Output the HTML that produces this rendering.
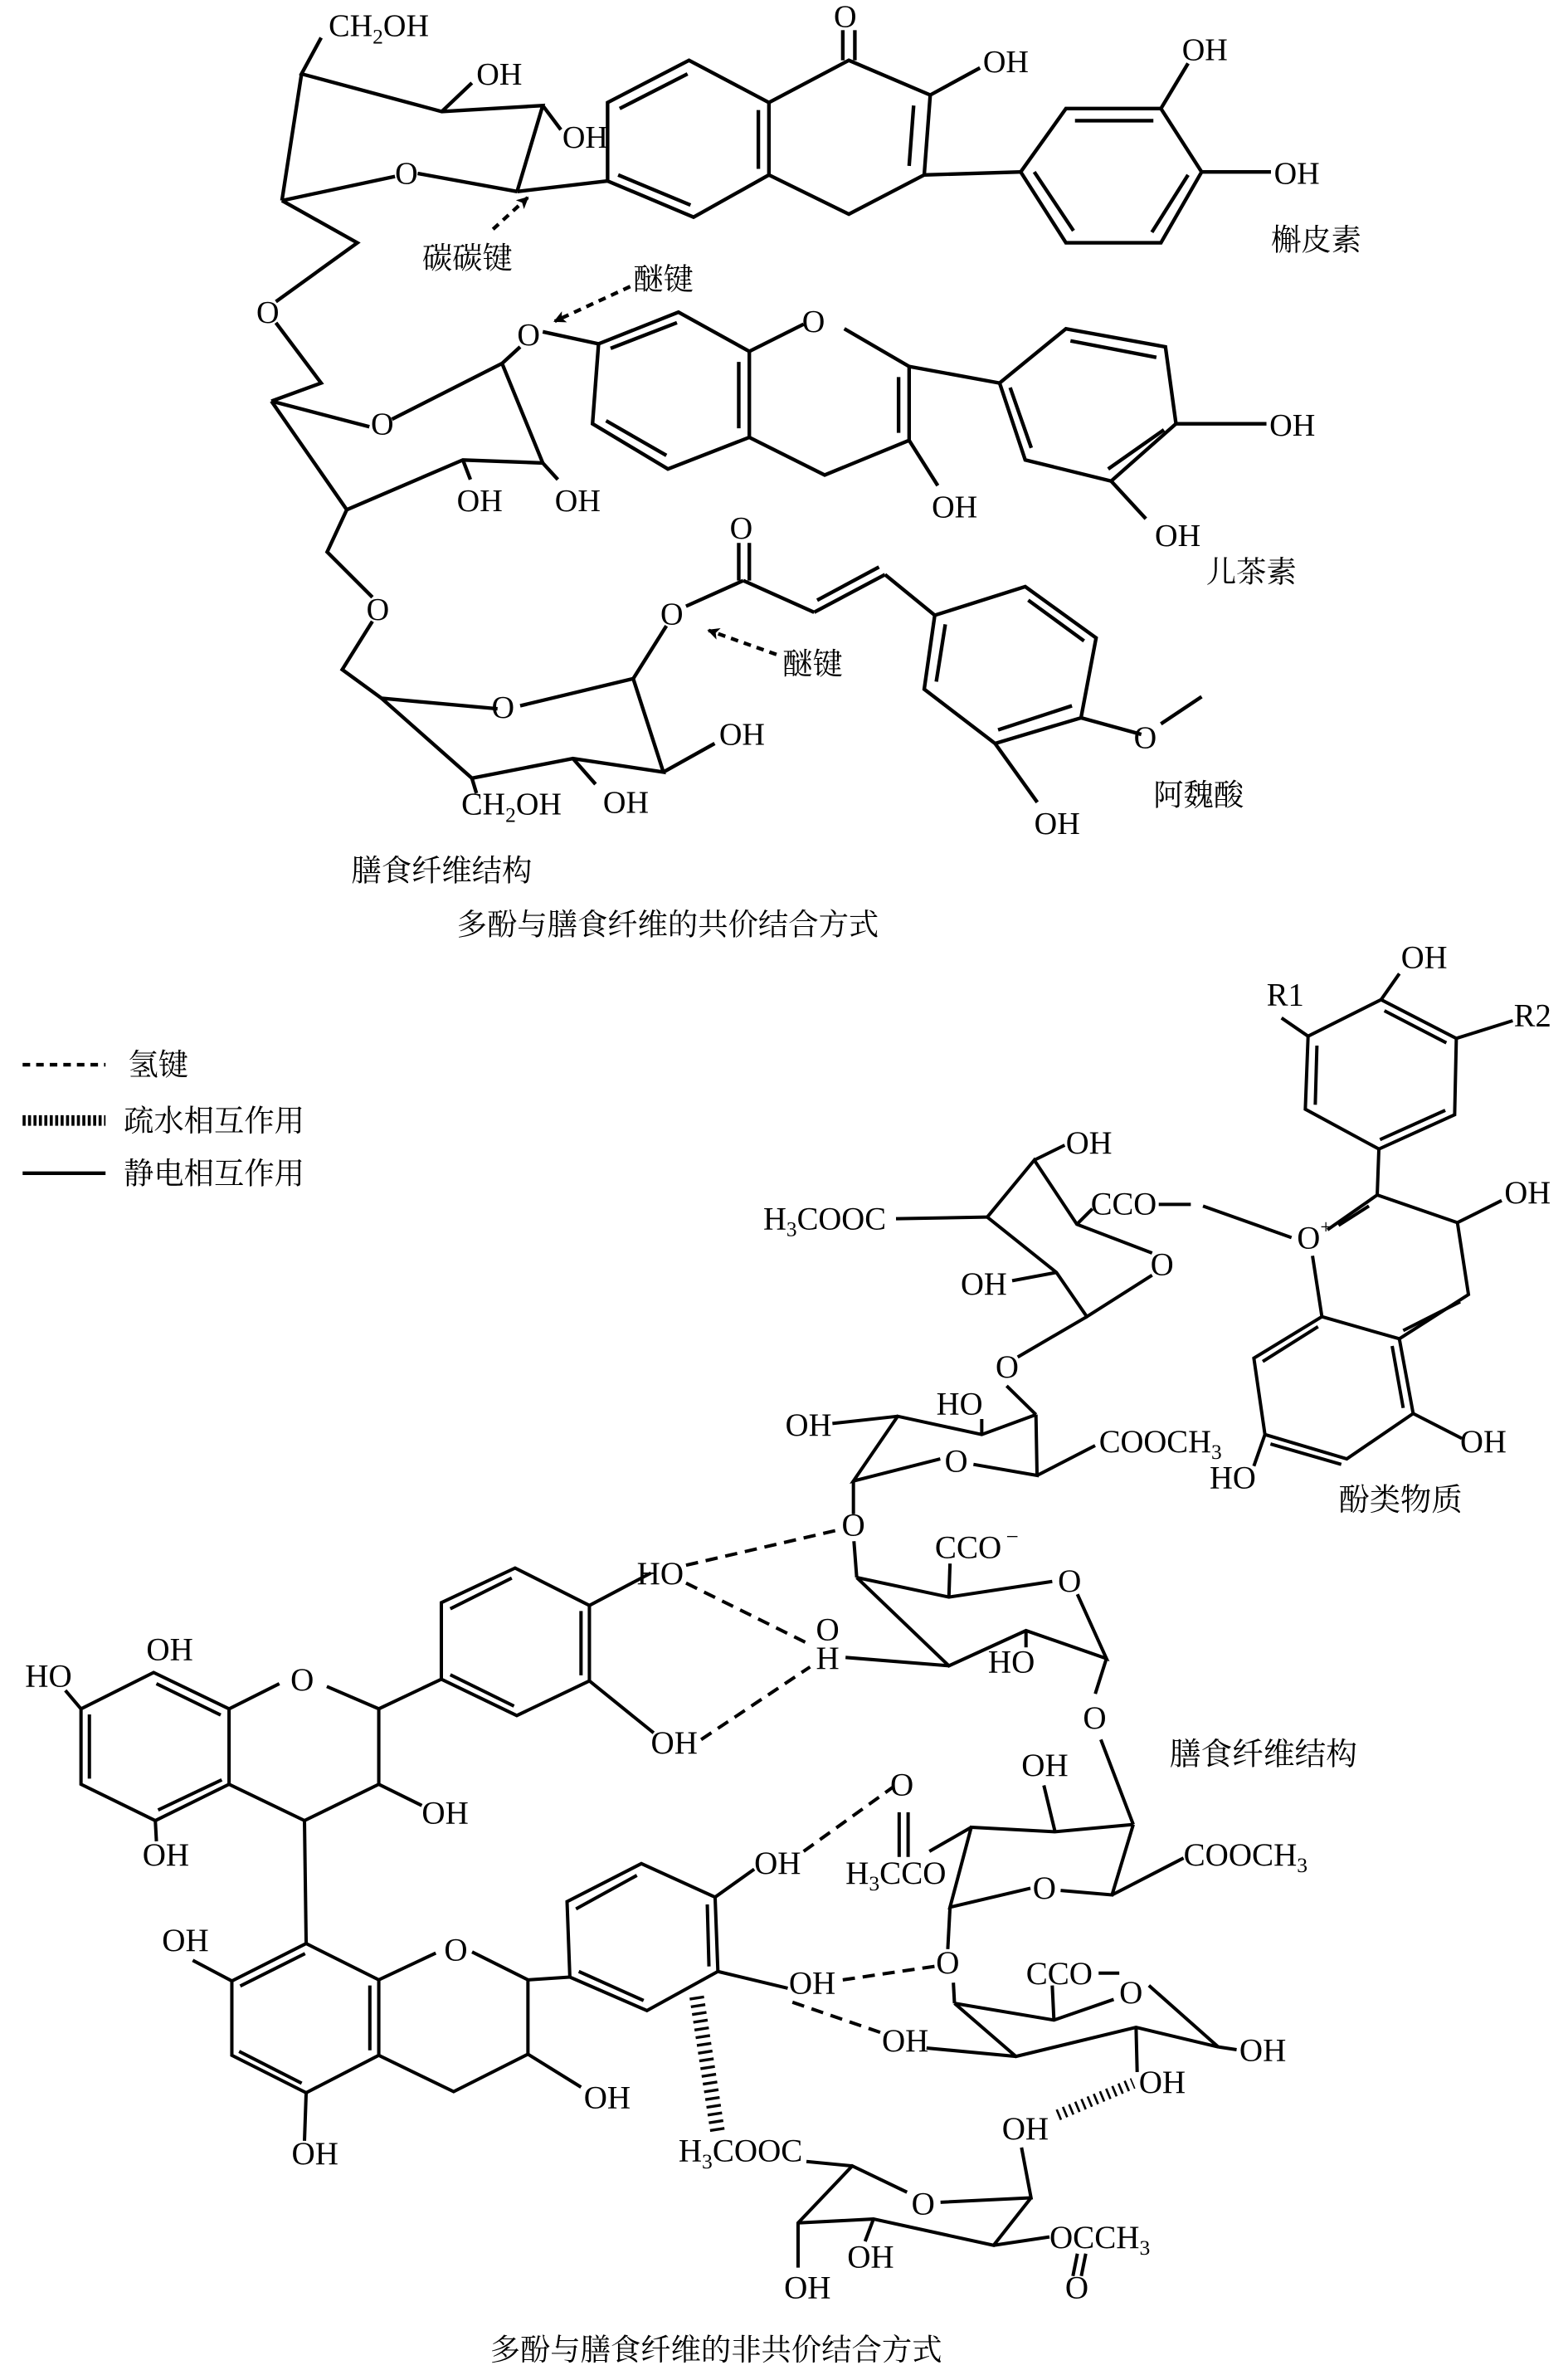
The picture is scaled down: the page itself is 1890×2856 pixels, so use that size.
<!DOCTYPE html>
<html><head><meta charset="utf-8"><style>
html,body{margin:0;padding:0;background:#fff}
svg{display:block}
text{font-family:"Liberation Serif","Noto Serif CJK SC",serif;fill:#000}
.z line,.z polyline{stroke:#000;stroke-width:6;fill:none}
.d line,.d polyline{stroke:#000;stroke-width:2.4;fill:none}
.z text{font-size:58px}
.d text{font-size:21px}
.d text.c{font-size:20px}
.z text.c{font-size:56px}
</style></head><body>
<svg width="1890" height="2856" viewBox="0 0 1890 2856" xmlns="http://www.w3.org/2000/svg">
<defs>
<marker id="ah" markerWidth="8" markerHeight="8" refX="7" refY="4" orient="auto" markerUnits="userSpaceOnUse"><path d="M0,0 L8,4 L0,8 L2,4 z" fill="#000"/></marker>
</defs>

<g class="d" transform="scale(1.8173)">
<polyline points="213,25 200,49 293,74 360,70 343,127"/>
<line x1="343" y1="127" x2="277" y2="115"/>
<line x1="262" y1="117" x2="187" y2="133"/>
<line x1="187" y1="133" x2="200" y2="49"/>
<line x1="293" y1="74" x2="313" y2="55"/>
<line x1="360" y1="70" x2="372" y2="86"/>
<text x="218" y="24">CH<tspan font-size="14" dy="5">2</tspan><tspan dy="-5">OH</tspan></text>
<text x="316" y="56">OH</text>
<text x="373" y="98">OH</text>
<text x="262" y="122">O</text>
<line x1="343" y1="127" x2="403" y2="120"/>
<polyline points="187,133 237,161 183,200"/>
<text x="170" y="214">O</text>
<polyline points="183,214 213,254 180,266"/>
<line x1="180" y1="266" x2="245" y2="283"/>
<line x1="260" y1="278" x2="333" y2="241"/>
<line x1="333" y1="241" x2="345" y2="230"/>
<text x="343" y="229">O</text>
<polyline points="333,241 360,307 307,305 230,338 180,266"/>
<line x1="307" y1="305" x2="312" y2="318"/>
<line x1="360" y1="307" x2="370" y2="318"/>
<text x="303" y="339">OH</text>
<text x="368" y="339">OH</text>
<text x="246" y="288">O</text>
<line x1="360" y1="220" x2="397" y2="228"/>
<polyline points="230,338 217,366 247,396"/>
<text x="243" y="411">O</text>
<polyline points="247,412 227,444 253,463 330,470"/>
<polyline points="345,468 420,450 440,512 380,503 313,516 253,463"/>
<text x="326" y="476">O</text>
<line x1="440" y1="512" x2="474" y2="493"/>
<line x1="380" y1="503" x2="395" y2="520"/>
<line x1="313" y1="516" x2="316" y2="526"/>
<text x="477" y="494">OH</text>
<text x="400" y="539">OH</text>
<text x="306" y="540">CH<tspan font-size="14" dy="5">2</tspan><tspan dy="-5">OH</tspan></text>
<line x1="420" y1="450" x2="442" y2="415"/>
<text x="438" y="414">O</text>
<line x1="455" y1="402" x2="493" y2="385"/>
<line x1="490" y1="385" x2="490" y2="360"/><line x1="497" y1="385" x2="497" y2="360"/>
<text x="484" y="357">O</text>
<line x1="493" y1="385" x2="540" y2="406"/>
<line x1="540" y1="406" x2="587" y2="381"/><line x1="542" y1="398" x2="583" y2="376"/>
<line x1="587" y1="381" x2="620" y2="408"/>
<polyline points="620,408 680,389 727,423 717,476 660,493 613,457 620,408"/>
<line x1="682" y1="398" x2="719" y2="425"/>
<line x1="711" y1="468" x2="662" y2="484"/>
<line x1="621" y1="452" x2="627" y2="414"/>
<line x1="717" y1="476" x2="757" y2="487"/>
<text x="752" y="496">O</text>
<line x1="770" y1="480" x2="797" y2="462"/>
<line x1="660" y1="493" x2="688" y2="532"/>
<text x="686" y="553">OH</text>
<text class="c" x="765" y="534">阿魏酸</text>
<line x1="515" y1="434" x2="470" y2="418" stroke-dasharray="5,4" marker-end="url(#ah)"/>
<text class="c" x="519" y="447">醚键</text>
<polyline points="403,120 403,68 457,40 510,68 510,116 460,144 403,120"/>
<line x1="411" y1="72" x2="456" y2="49"/>
<line x1="503" y1="73" x2="503" y2="112"/>
<line x1="458" y1="136" x2="410" y2="116"/>
<polyline points="510,68 563,40 617,63 613,116 563,142 510,116"/>
<line x1="559" y1="40" x2="559" y2="20"/><line x1="567" y1="40" x2="567" y2="20"/>
<text x="553" y="18">O</text>
<line x1="606" y1="70" x2="603" y2="110"/>
<line x1="617" y1="63" x2="650" y2="45"/>
<text x="652" y="48">OH</text>
<line x1="613" y1="116" x2="677" y2="114"/>
<polyline points="677,114 707,72 770,72 797,114 770,161 707,161 677,114"/>
<line x1="713" y1="80" x2="765" y2="80"/>
<line x1="788" y1="116" x2="764" y2="154"/>
<line x1="712" y1="153" x2="686" y2="114"/>
<line x1="770" y1="72" x2="788" y2="42"/>
<text x="784" y="40">OH</text>
<line x1="797" y1="114" x2="843" y2="114"/>
<text x="845" y="122">OH</text>
<text class="c" x="843" y="166">槲皮素</text>
<line x1="327" y1="152" x2="350" y2="131" stroke-dasharray="5,4" marker-end="url(#ah)"/>
<text class="c" x="280" y="178">碳碳键</text>
<line x1="418" y1="190" x2="368" y2="213" stroke-dasharray="5,4" marker-end="url(#ah)"/>
<text class="c" x="420" y="192">醚键</text>
<polyline points="397,228 450,207 497,233 497,290 443,311 393,281 397,228"/>
<line x1="405" y1="231" x2="449" y2="214"/>
<line x1="490" y1="240" x2="490" y2="284"/>
<line x1="442" y1="302" x2="402" y2="279"/>
<line x1="497" y1="233" x2="533" y2="215"/>
<text x="532" y="220">O</text>
<polyline points="560,218 603,243 603,292 547,315 497,290"/>
<line x1="596" y1="250" x2="596" y2="287"/>
<line x1="603" y1="292" x2="622" y2="322"/>
<text x="618" y="343">OH</text>
<line x1="603" y1="243" x2="663" y2="254"/>
<polyline points="663,254 707,218 773,230 780,281 737,319 680,305 663,254"/>
<line x1="710" y1="226" x2="767" y2="237"/>
<line x1="772" y1="285" x2="735" y2="311"/>
<line x1="684" y1="297" x2="670" y2="257"/>
<line x1="780" y1="281" x2="840" y2="281"/>
<text x="842" y="289">OH</text>
<line x1="737" y1="319" x2="760" y2="344"/>
<text x="766" y="362">OH</text>
<text class="c" x="800" y="386">儿茶素</text>
<text class="c" x="233" y="584">膳食纤维结构</text>
<text class="c" x="303" y="620">多酚与膳食纤维的共价结合方式</text>
<line x1="15" y1="706" x2="70" y2="706" stroke-dasharray="5,4"/>
<text class="c" x="85" y="713">氢键</text>
<line x1="15" y1="743" x2="70" y2="743" style="stroke-width:7;stroke-dasharray:2,1.6"/>
<text class="c" x="82" y="750">疏水相互作用</text>
<line x1="15" y1="778" x2="70" y2="778"/>
<text class="c" x="82" y="785">静电相互作用</text>
<text class="c" x="325" y="1565">多酚与膳食纤维的非共价结合方式</text>
</g>

<g class="z" transform="translate(850,1150) scale(0.6667)">
<polyline points="1090,148 1222,82 1358,152 1355,290 1218,352 1085,280 1090,148"/>
<line x1="1228" y1="102" x2="1340" y2="160"/>
<line x1="1338" y1="282" x2="1220" y2="335"/>
<line x1="1106" y1="165" x2="1103" y2="272"/>
<line x1="1222" y1="82" x2="1255" y2="35"/>
<text x="1258" y="25">OH</text>
<line x1="1090" y1="148" x2="1042" y2="115"/>
<text x="1015" y="92">R1</text>
<line x1="1358" y1="152" x2="1460" y2="120"/>
<text x="1462" y="130">R2</text>
<line x1="1218" y1="352" x2="1215" y2="435"/>
<line x1="1215" y1="435" x2="1125" y2="498"/>
<line x1="1200" y1="455" x2="1145" y2="490"/>
<polyline points="1215,435 1360,485 1380,615 1255,695 1115,655 1098,545"/>
<line x1="1365" y1="628" x2="1262" y2="680"/>
<text x="1070" y="532">O</text><text x="1112" y="505" style="font-size:36px">+</text>
<line x1="1360" y1="485" x2="1440" y2="445"/>
<text x="1445" y="450">OH</text>
<polyline points="1115,655 992,730 1012,868 1160,912 1280,830 1255,695"/>
<line x1="1108" y1="673" x2="1008" y2="736"/>
<line x1="1022" y1="885" x2="1150" y2="922"/>
<line x1="1262" y1="820" x2="1242" y2="708"/>
<line x1="1280" y1="830" x2="1368" y2="875"/>
<text x="1365" y="900">OH</text>
<line x1="1012" y1="868" x2="992" y2="925"/>
<text x="912" y="965">HO</text>
<text class="c" x="1145" y="1005">酚类物质</text>
<text x="697" y="470">CCO</text>
<line x1="820" y1="452" x2="878" y2="452"/>
<line x1="900" y1="455" x2="1060" y2="512"/>
<text x="105" y="497">H<tspan font-size="38" dy="12">3</tspan><tspan dy="-12">COOC</tspan></text>
<line x1="345" y1="478" x2="510" y2="475"/>
<polyline points="510,475 595,372 672,488 808,540"/>
<polyline points="808,580 690,655 635,575 510,475"/>
<text x="805" y="580">O</text>
<line x1="672" y1="488" x2="700" y2="460"/>
<line x1="595" y1="372" x2="650" y2="345"/>
<text x="652" y="360">OH</text>
<line x1="635" y1="575" x2="555" y2="590"/>
<text x="462" y="615">OH</text>
<line x1="690" y1="655" x2="565" y2="728"/>
<text x="525" y="765">O</text>
<line x1="545" y1="780" x2="598" y2="832"/>
<polyline points="598,832 500,868 348,835 268,952 425,912"/>
<polyline points="485,922 600,942 598,832"/>
<text x="433" y="935">O</text>
<line x1="348" y1="835" x2="230" y2="848"/>
<text x="145" y="870">OH</text>
<line x1="500" y1="868" x2="500" y2="840"/>
<text x="418" y="832">HO</text>
<line x1="600" y1="942" x2="705" y2="888"/>
<text x="712" y="900">COOCH<tspan font-size="38" dy="12">3</tspan></text>
<line x1="268" y1="952" x2="268" y2="1012"/>
</g>

<g class="z" transform="translate(0,1800) scale(0.6734)">
<polyline points="145,385 275,320 410,385 410,520 278,585 145,520 145,385"/>
<line x1="280" y1="340" x2="395" y2="396"/>
<line x1="160" y1="395" x2="160" y2="510"/>
<line x1="283" y1="566" x2="397" y2="512"/>
<line x1="145" y1="385" x2="117" y2="352"/>
<text x="45" y="345">HO</text>
<text x="262" y="298">OH</text>
<line x1="278" y1="585" x2="280" y2="622"/>
<text x="255" y="665">OH</text>
<line x1="410" y1="385" x2="500" y2="340"/>
<text x="520" y="352">O</text>
<polyline points="585,345 678,385 678,520 545,585 410,520"/>
<line x1="678" y1="520" x2="755" y2="558"/>
<text x="755" y="590">OH</text>
<line x1="678" y1="385" x2="790" y2="332"/>
<polyline points="790,332 790,195 922,133 1055,200 1055,335 925,397 790,332"/>
<line x1="806" y1="206" x2="916" y2="151"/>
<line x1="1040" y1="210" x2="1040" y2="325"/>
<line x1="920" y1="380" x2="806" y2="324"/>
<line x1="1055" y1="200" x2="1165" y2="142"/>
<text x="1140" y="162">HO</text>
<line x1="1055" y1="335" x2="1170" y2="428"/>
<text x="1165" y="465">OH</text>
<g stroke-dasharray="22,14">
<line x1="1228" y1="128" x2="1500" y2="65"/>
<line x1="1228" y1="160" x2="1450" y2="270"/>
<line x1="1255" y1="440" x2="1450" y2="310"/>
</g>
<line x1="545" y1="585" x2="548" y2="805"/>
<polyline points="548,805 678,870 678,1005 548,1072 415,1005 415,872 548,805"/>
<line x1="430" y1="881" x2="546" y2="823"/>
<line x1="662" y1="880" x2="662" y2="996"/>
<line x1="540" y1="1055" x2="428" y2="998"/>
<line x1="415" y1="872" x2="345" y2="835"/>
<text x="290" y="818">OH</text>
<line x1="548" y1="1072" x2="545" y2="1158"/>
<text x="522" y="1200">OH</text>
<line x1="678" y1="870" x2="780" y2="822"/>
<text x="795" y="835">O</text>
<polyline points="845,820 945,870 945,1003 812,1070 678,1005"/>
<line x1="945" y1="1003" x2="1040" y2="1062"/>
<text x="1045" y="1100">OH</text>
<line x1="945" y1="870" x2="1020" y2="865"/>
<polyline points="1020,865 1015,730 1148,662 1280,722 1285,855 1158,925 1020,865"/>
<line x1="1031" y1="743" x2="1140" y2="683"/>
<line x1="1266" y1="735" x2="1269" y2="846"/>
<line x1="1152" y1="907" x2="1036" y2="855"/>
<line x1="1280" y1="722" x2="1350" y2="672"/>
<text x="1350" y="680">OH</text>
<line x1="1285" y1="855" x2="1410" y2="885"/>
<text x="1412" y="895">OH</text>
<line x1="1247" y1="900" x2="1285" y2="1145" style="stroke-width:26;stroke-dasharray:5,9"/>
</g>

<g class="z" transform="translate(834,1800) scale(0.6734)">
<text x="268" y="75">O</text>
<line x1="290" y1="85" x2="295" y2="150"/>
<polyline points="295,150 460,185 645,157"/>
<line x1="460" y1="185" x2="462" y2="125"/>
<text x="435" y="115">CCO</text><text x="562" y="90" style="font-size:40px">−</text>
<text x="655" y="175">O</text>
<polyline points="690,180 742,295 598,245 460,308 295,150"/>
<line x1="275" y1="293" x2="460" y2="308"/>
<text x="222" y="262">O</text>
<text x="222" y="313">H</text>
<line x1="598" y1="245" x2="598" y2="275"/>
<text x="530" y="320">HO</text>
<line x1="742" y1="295" x2="722" y2="358"/>
<text x="700" y="420">O</text>
<line x1="732" y1="440" x2="790" y2="592"/>
<text class="c" x="855" y="485">膳食纤维结构</text>
<polyline points="790,592 650,605 500,597 462,740 606,706"/>
<polyline points="660,710 752,718 790,592"/>
<text x="610" y="725">O</text>
<line x1="650" y1="605" x2="630" y2="522"/>
<text x="590" y="505">OH</text>
<line x1="752" y1="718" x2="880" y2="652"/>
<text x="880" y="665">COOCH<tspan font-size="38" dy="12">3</tspan></text>
<line x1="500" y1="597" x2="425" y2="640"/>
<text x="275" y="698">H<tspan font-size="38" dy="12">3</tspan><tspan dy="-12">CCO</tspan></text>
<line x1="371" y1="570" x2="371" y2="650"/><line x1="387" y1="570" x2="387" y2="650"/>
<text x="355" y="540">O</text>
<g stroke-dasharray="22,14">
<line x1="200" y1="640" x2="360" y2="525"/>
<line x1="270" y1="870" x2="440" y2="845"/>
<line x1="180" y1="910" x2="340" y2="965"/>
</g>
<line x1="462" y1="740" x2="458" y2="815"/>
<text x="437" y="858">O</text>
<line x1="468" y1="875" x2="470" y2="912"/>
<polyline points="470,912 648,942 755,905"/>
<line x1="648" y1="942" x2="645" y2="880"/>
<text x="598" y="878">CCO</text>
<line x1="728" y1="858" x2="765" y2="858"/>
<text x="765" y="912">O</text>
<polyline points="818,880 942,990 795,955 580,1007 470,912"/>
<line x1="942" y1="990" x2="975" y2="995"/>
<text x="980" y="1015">OH</text>
<line x1="795" y1="955" x2="797" y2="1035"/>
<text x="800" y="1072">OH</text>
<line x1="580" y1="1007" x2="420" y2="992"/>
<text x="340" y="998">OH</text>
<line x1="655" y1="1112" x2="790" y2="1055" style="stroke-width:20;stroke-dasharray:4,8"/>
<text x="555" y="1155">OH</text>
<polyline points="590,1170 607,1260 445,1268"/>
<text x="393" y="1290">O</text>
<polyline points="385,1250 287,1203 190,1305 190,1385"/>
<polyline points="190,1305 325,1298 540,1345 607,1260"/>
<line x1="325" y1="1298" x2="310" y2="1338"/>
<text x="278" y="1385">OH</text>
<text x="165" y="1440">OH</text>
<line x1="540" y1="1345" x2="640" y2="1330"/>
<text x="640" y="1350">OCCH<tspan font-size="38" dy="12">3</tspan></text>
<line x1="690" y1="1360" x2="682" y2="1400"/><line x1="705" y1="1360" x2="697" y2="1400"/>
<text x="668" y="1440">O</text>
<text x="-24" y="1195">H<tspan font-size="38" dy="12">3</tspan><tspan dy="-12">COOC</tspan></text>
<line x1="205" y1="1195" x2="287" y2="1203"/>
</g>
</svg>
</body></html>
